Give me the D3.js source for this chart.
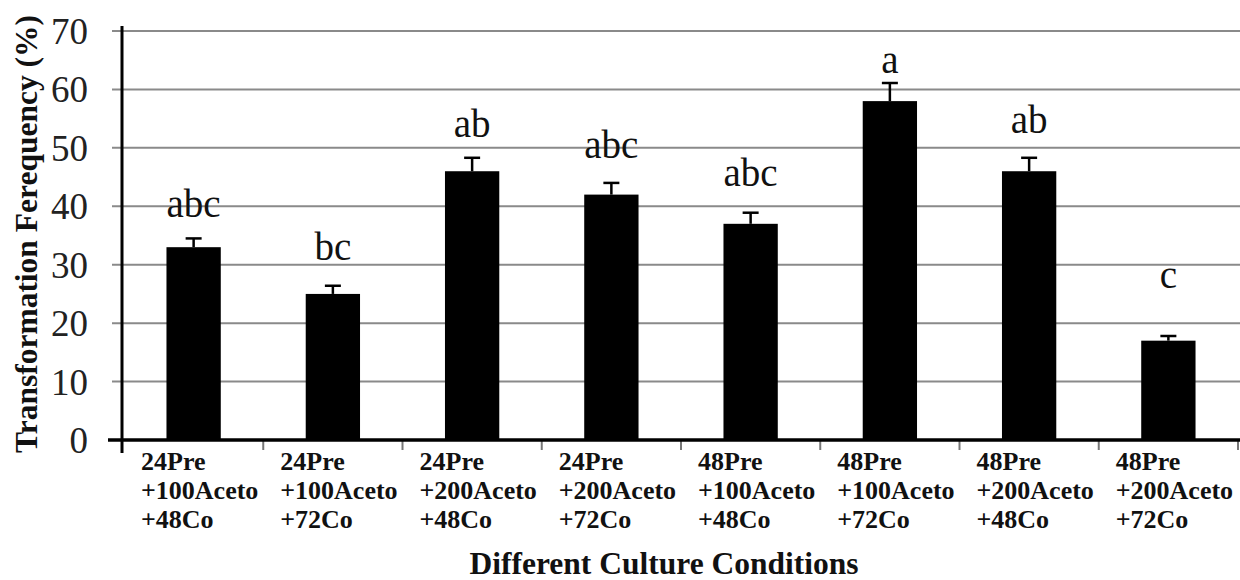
<!DOCTYPE html>
<html>
<head>
<meta charset="utf-8">
<script src="https://cdn.jsdelivr.net/npm/d3@7"></script>
<style>
  html, body { margin: 0; padding: 0; background: #fff; }
  svg { display: block; }
</style>
</head>
<body>
<div id="chart"></div>
<script>
// Culture conditions, one bar each (three text lines per label)
const conditions = [
    ["24Pre", "+100Aceto", "+48Co"],
    ["24Pre", "+100Aceto", "+72Co"],
    ["24Pre", "+200Aceto", "+48Co"],
    ["24Pre", "+200Aceto", "+72Co"],
    ["48Pre", "+100Aceto", "+48Co"],
    ["48Pre", "+100Aceto", "+72Co"],
    ["48Pre", "+200Aceto", "+48Co"],
    ["48Pre", "+200Aceto", "+72Co"]
];
const frequency = [33, 25, 46, 42, 37, 58, 46, 17];
const errorHigh = [34.5, 26.4, 48.3, 44, 38.9, 61.1, 48.3, 17.8];
const groups = ["abc", "bc", "ab", "abc", "abc", "a", "ab", "c"];
const groupLevel = [38.2, 30.8, 51.9, 48.3, 43.4, 62.8, 52.5, 26.0];
const yTicks = [0, 10, 20, 30, 40, 50, 60, 70];

const width = 1240, height = 580;
const margin = { top: 31, right: 2, bottom: 140, left: 124 };
const serif = "'Liberation Serif', 'Times New Roman', serif";

const svg = d3.select("#chart").append("svg")
    .attr("width", width)
    .attr("height", height);

const x = d3.scaleBand()
    .domain(d3.range(conditions.length))
    .range([margin.left, width - margin.right])
    .paddingInner(0.61)
    .paddingOuter(0.305);

const y = d3.scaleLinear()
    .domain([0, 70])
    .range([height - margin.bottom, margin.top]);

// Gridlines
svg.append("g")
    .selectAll("line")
    .data(yTicks.filter(t => t > 0))
    .enter()
    .append("line")
    .attr("x1", 112)
    .attr("x2", width)
    .attr("y1", d => y(d))
    .attr("y2", d => y(d))
    .style("stroke", "#8a8a8a")
    .style("stroke-width", "2px");

// Y tick labels
svg.append("g")
    .selectAll("text")
    .data(yTicks)
    .enter()
    .append("text")
    .attr("x", 88)
    .attr("y", d => y(d))
    .attr("dy", "0.35em")
    .attr("text-anchor", "end")
    .attr("font-family", serif)
    .attr("font-size", "37px")
    .style("fill", "#222")
    .text(d => d);

// Bars
svg.append("g")
    .selectAll("rect")
    .data(frequency)
    .enter()
    .append("rect")
    .attr("x", (d, i) => x(i))
    .attr("y", d => y(d))
    .attr("width", x.bandwidth())
    .attr("height", d => y(0) - y(d))
    .style("fill", "#000");

// Error bars
const err = svg.append("g")
    .selectAll("g")
    .data(frequency.map((v, i) => ({ v, hi: errorHigh[i], i })))
    .enter()
    .append("g")
    .style("stroke", "#000")
    .style("stroke-width", "2.5px");

err.append("line")
    .attr("x1", d => x(d.i) + x.bandwidth() / 2)
    .attr("x2", d => x(d.i) + x.bandwidth() / 2)
    .attr("y1", d => y(d.v))
    .attr("y2", d => y(d.hi));

err.append("line")
    .attr("x1", d => x(d.i) + x.bandwidth() / 2 - 8)
    .attr("x2", d => x(d.i) + x.bandwidth() / 2 + 8)
    .attr("y1", d => y(d.hi))
    .attr("y2", d => y(d.hi));

// Significance letters
svg.append("g")
    .selectAll("text")
    .data(groups)
    .enter()
    .append("text")
    .attr("x", (d, i) => x(i) + x.bandwidth() / 2)
    .attr("y", (d, i) => y(groupLevel[i]))
    .attr("text-anchor", "middle")
    .attr("font-family", serif)
    .attr("font-size", "39px")
    .style("fill", "#111")
    .text(d => d);

// X axis ticks at band edges
const step = x.step();
svg.append("g")
    .selectAll("line")
    .data(d3.range(1, conditions.length + 1))
    .enter()
    .append("line")
    .attr("x1", i => margin.left + i * step)
    .attr("x2", i => margin.left + i * step)
    .attr("y1", y(0))
    .attr("y2", y(0) + 10)
    .style("stroke", "#777")
    .style("stroke-width", "2px");

// Axis lines
svg.append("line")
    .attr("x1", 108).attr("x2", width)
    .attr("y1", y(0)).attr("y2", y(0))
    .style("stroke", "#000").style("stroke-width", "3.5px");

svg.append("line")
    .attr("x1", 122).attr("x2", 122)
    .attr("y1", 26).attr("y2", 453)
    .style("stroke", "#000").style("stroke-width", "3px");

// X tick labels, three lines each
const xl = svg.append("g")
    .selectAll("text")
    .data(conditions)
    .enter()
    .append("text")
    .attr("font-family", serif)
    .attr("font-size", "26px")
    .attr("font-weight", "bold")
    .style("fill", "#111")
    .attr("transform", (d, i) => `translate(${margin.left + i * step + 17}, ${y(0) + 30})`);

xl.selectAll("tspan")
    .data(d => d)
    .enter()
    .append("tspan")
    .attr("x", 0)
    .attr("y", (d, j) => j * 29)
    .text(d => d);

// Axis titles
svg.append("text")
    .attr("x", 664)
    .attr("y", 574)
    .attr("text-anchor", "middle")
    .attr("font-family", serif)
    .attr("font-size", "31.5px")
    .attr("font-weight", "bold")
    .style("fill", "#111")
    .text("Different Culture Conditions");

svg.append("text")
    .attr("transform", "translate(37, 234) rotate(-90)")
    .attr("text-anchor", "middle")
    .attr("font-family", serif)
    .attr("font-size", "31.5px")
    .attr("font-weight", "bold")
    .style("fill", "#111")
    .text("Transformation Ferequency (%)");
</script>
</body>
</html>
